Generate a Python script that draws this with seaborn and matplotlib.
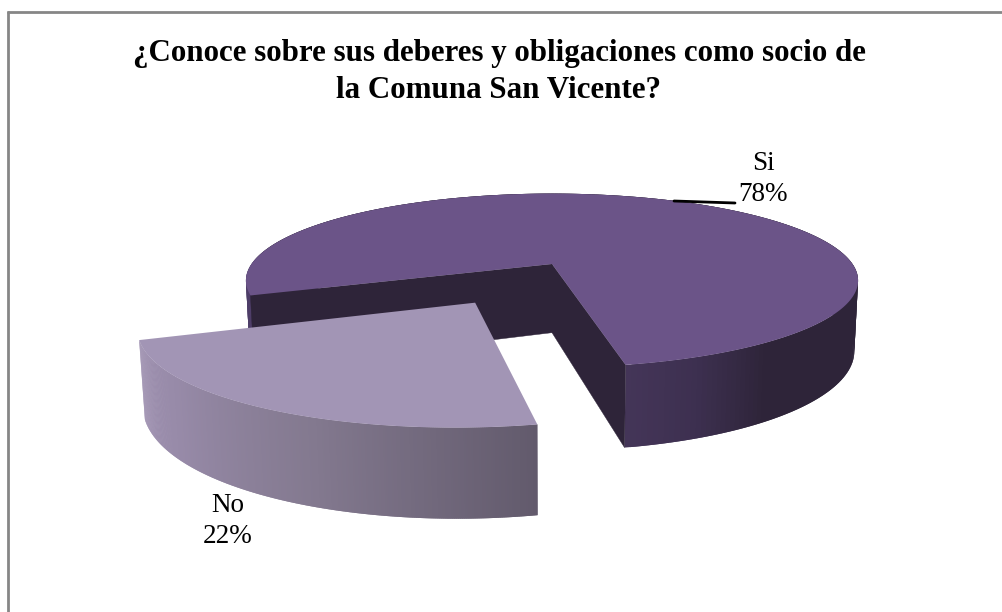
import numpy as np
import matplotlib
matplotlib.use("Agg")
import matplotlib.pyplot as plt
from matplotlib.collections import PolyCollection
from matplotlib.patches import Polygon
from matplotlib.path import Path
from matplotlib.transforms import Transform, Affine2D
import seaborn as sns

# ---- data ----
categories = ["Si", "No"]
shares = [77.5, 22.5]
percent_labels = ["78%", "22%"]
explode_amount = [0.0, 0.485]
title_lines = ["¿Conoce sobre sus deberes y obligaciones como socio de",
               "la Comuna San Vicente?"]

sns.set_theme(style="white")
plt.rcParams["font.family"] = ["Liberation Serif", "DejaVu Serif"]

W, H = 1002, 612
fig = plt.figure(figsize=(W / 100, H / 100), dpi=100)
ax = fig.add_axes([0, 0, 1, 1])

CX, CY, A, B, K, M, DEPTH = 552.0, 264.0, 300.5, 83.8, 0.19, 0.012, 69.5
SI_TOP, NO_TOP, DARK = "#6b5488", "#a295b5", "#2e2439"


def project(u, v, z=0.0):
    """Perspective view of the pie plane; z = 0 top face, z = 1 bottom face."""
    u, v = np.asarray(u, float), np.asarray(v, float)
    w = 1 + K * v + M * z
    return CX + A * u / w, CY - (B * v - DEPTH * z) / w


class PieView(Transform):
    input_dims = output_dims = 2
    is_separable = False
    has_inverse = False

    def transform_non_affine(self, values):
        values = np.asarray(values)
        x, y = project(values[:, 0], values[:, 1])
        return np.column_stack([x, y])

    def transform_path_non_affine(self, path):
        poly = path.to_polygons(Affine2D().scale(2000), closed_only=True)[0] / 2000
        return Path(self.transform_non_affine(poly), closed=True)


# top faces come from the pie itself
wedges, _ = ax.pie(shares, startangle=281.5, explode=explode_amount, radius=1,
                   colors=[SI_TOP, NO_TOP], frame=True,
                   wedgeprops=dict(linewidth=0))
ax.set_aspect("auto")
ax.set_xlim(0, W)
ax.set_ylim(H, 0)
ax.axis("off")


def walls(wedge, stops, radial, z):
    cu, cv = wedge.center
    th = np.radians(np.linspace(wedge.theta1, wedge.theta2, 300))
    u, v = cu + np.cos(th), cv + np.sin(th)
    quads = []
    for i in range(len(th) - 1):
        ii = [i, min(i + 2, len(th) - 1)]
        x0, y0 = project(u[ii], v[ii], 0)
        x1, y1 = project(u[ii], v[ii], 1)
        quads.append([(x0[0], y0[0]), (x0[1], y0[1]), (x1[1], y1[1]), (x1[0], y1[0])])
    pal = sns.blend_palette([c for _, c in stops], 256)
    pos = np.array([p for p, _ in stops])
    frac = np.interp(np.linspace(0, 1, len(quads)), pos, np.linspace(0, 1, len(pos)))
    cols = [pal[int(f * 255)] for f in frac]
    ax.add_collection(PolyCollection(quads, facecolors=cols, linewidths=0, zorder=z))
    for ang in radial:
        t = np.radians(ang)
        uu = np.array([cu, cu + np.cos(t)])
        vv = np.array([cv, cv + np.sin(t)])
        x0, y0 = project(uu, vv, 0)
        x1, y1 = project(uu, vv, 1)
        ax.add_patch(Polygon([(x0[0], y0[0]), (x0[1], y0[1]), (x1[1], y1[1]), (x1[0], y1[0])],
                             facecolor=DARK, edgecolor=DARK, lw=0.3, zorder=z + 0.1))


si, no = wedges
si.set_zorder(3)
no.set_zorder(5)
view = PieView() + ax.transData
si.set_transform(view)
no.set_transform(view)

walls(si, [(0, "#443558"), (0.04, "#3d3050"), (0.09, DARK), (0.9, DARK),
           (0.93, "#453660"), (1, "#503f6a")],
      [si.theta1, si.theta2], 2)
walls(no, [(0, "#a092b2"), (0.25, "#978aa8"), (0.6, "#83798f"), (1, "#625a6c")], [], 4)

# frame
ax.plot([8, 8], [11, H], color="#868686", lw=2, solid_capstyle="butt", zorder=1)
ax.plot([7, W], [12, 12], color="#868686", lw=2, solid_capstyle="butt", zorder=1)

# title
for line, y in zip(title_lines, [61, 98.5]):
    ax.text(499, y, line, ha="center", va="baseline", fontsize=22.3, fontweight="bold",
            color="black", zorder=8)

# labels
lab = {c: f"{c}\n{p}" for c, p in zip(categories, percent_labels)}
ax.text(763, 179, lab["Si"], ha="center", va="center", fontsize=19.5, color="black",
        linespacing=1.35, zorder=8)
ax.text(228, 521, lab["No"], ha="center", va="center", fontsize=19.5, color="black",
        linespacing=1.35, zorder=8)
ax.plot([674, 735], [201, 203], color="black", lw=2, zorder=8)

fig.savefig("out.png", dpi=100, facecolor="white")
